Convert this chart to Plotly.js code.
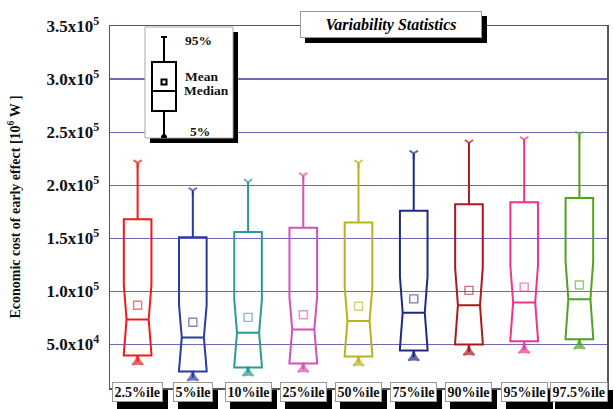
<!DOCTYPE html>
<html>
<head>
<meta charset="utf-8">
<script src="https://cdn.plot.ly/plotly-3.0.1.min.js"></script>
<style>html,body{margin:0;padding:0;background:#fff;}#chart{width:614px;height:409px;}</style>
</head>
<body>
<div id="chart"></div>
<script>
// ---- data ----
const categories = ['2.5%ile','5%ile','10%ile','25%ile','50%ile','75%ile','90%ile','95%ile','97.5%ile'];
const lowerWhisker = [34000, 19000, 23500, 27000, 33000, 38000, 43000, 45000, 49000];
const q1Values     = [39600, 24500, 28300, 32000, 38700, 44300, 50000, 53000, 55000];
const medianValues = [73600, 56600, 61000, 64000, 72000, 80000, 87000, 89600, 92500];
const meanValues   = [87000, 71000, 75500, 78000, 86000, 93000, 101000, 104000, 106000];
const q3Values     = [168000, 151000, 156000, 160000, 165000, 176000, 182000, 184000, 188000];
const upperWhisker = [221000, 195000, 203000, 209000, 221000, 230000, 240000, 243000, 248000];
const boxColors = ['#f01a1a','#2b3ba3','#2a9a92','#d452b4','#b9b21e','#1f2a85','#a91a1a','#f0338c','#52a222'];

const yTickVals = [50000, 100000, 150000, 200000, 250000, 300000, 350000];
const yTickText = ['5.0x10<sup>4</sup>','1.0x10<sup>5</sup>','1.5x10<sup>5</sup>','2.0x10<sup>5</sup>','2.5x10<sup>5</sup>','3.0x10<sup>5</sup>','3.5x10<sup>5</sup>'];

// legend key (illustrative glyph, in inset-axis units)
const keyLabels = ['95%', 'Mean', 'Median', '5%'];
const keyStats = {pos: 19, halfWidth: 12, lower: 1, q1: 27, median: 47, mean: 56, q3: 76, upper: 101};

const serif = 'Liberation Serif, Times New Roman, serif';
const traces = [];

categories.forEach((c, i) => {
  const span = Math.min(medianValues[i] - q1Values[i], q3Values[i] - medianValues[i]) * 0.95;
  traces.push({
    type: 'box', x: [c],
    q1: [q1Values[i]], median: [medianValues[i]], q3: [q3Values[i]],
    lowerfence: [lowerWhisker[i]], upperfence: [upperWhisker[i]],
    notched: true, notchspan: [span], notchwidth: 0.1,
    width: 0.5, whiskerwidth: 0,
    line: {color: boxColors[i], width: 2}, fillcolor: 'rgba(255,255,255,0)',
    boxpoints: false, hoverinfo: 'skip', showlegend: false
  });
  traces.push({
    type: 'scatter', mode: 'markers', x: [c], y: [meanValues[i]],
    marker: {symbol: 'square-open', size: 8, color: boxColors[i], opacity: 0.6, line: {width: 1.4}},
    showlegend: false, hoverinfo: 'skip'
  });
  traces.push({
    type: 'scatter', mode: 'markers', x: [c, c], y: [upperWhisker[i], lowerWhisker[i]],
    marker: {symbol: ['y-down-open', 'star-triangle-up'], size: [7, 8], color: boxColors[i], line: {width: 2, color: boxColors[i]}},
    showlegend: false, hoverinfo: 'skip'
  });
});

const annotations = [];
// title with shadow
const titleCommon = {xref: 'paper', yref: 'paper', x: 0.565, y: 1.0055, xanchor: 'center', yanchor: 'middle',
  showarrow: false, width: 176, height: 21, borderpad: 2};
annotations.push(Object.assign({}, titleCommon, {text: '<i><b>Variability Statistics</b></i>', xshift: 5, yshift: -5,
  bgcolor: '#000', bordercolor: '#000', font: {family: serif, size: 16, color: '#000'}}));
annotations.push(Object.assign({}, titleCommon, {text: '<i><b>Variability Statistics</b></i>',
  bgcolor: '#fff', bordercolor: '#999', borderwidth: 1, font: {family: serif, size: 16, color: '#000'}}));
// category labels with shadow
categories.forEach((c) => {
  const base = {xref: 'x', yref: 'paper', x: c, y: -0.011, xanchor: 'center', yanchor: 'middle',
    showarrow: false, borderpad: 1.5, text: '<b>' + c + '</b>', font: {family: serif, size: 14, color: '#111'}};
  annotations.push(Object.assign({}, base, {xshift: 5, yshift: -8, bgcolor: '#000', bordercolor: '#000', font: {family: serif, size: 14, color: '#000'}}));
  annotations.push(Object.assign({}, base, {bgcolor: '#fff', bordercolor: '#999', borderwidth: 1}));
});
// key labels
const keyPos = [[38, 98], [38, 62], [37, 48], [43, 7]];
keyLabels.forEach((t, i) => {
  annotations.push({xref: 'x2', yref: 'y2', x: keyPos[i][0], y: keyPos[i][1], xanchor: 'left', yanchor: 'middle',
    showarrow: false, text: '<b>' + t + '</b>', font: {family: serif, size: 13.5, color: '#111'}});
});

const k = keyStats;
const keyLine = {color: '#000', width: 2};
const shapes = [
  // inset panel: shadow then white card
  {type: 'rect', xref: 'x2 domain', yref: 'y2 domain', x0: 0.057, x1: 1.057, y0: -0.045, y1: 0.955,
    fillcolor: '#000', line: {width: 0}, layer: 'above'},
  {type: 'rect', xref: 'x2 domain', yref: 'y2 domain', x0: 0, x1: 1, y0: 0, y1: 1,
    fillcolor: '#fff', line: {color: '#aaa', width: 1}, layer: 'above'},
  // key glyph
  {type: 'line', xref: 'x2', yref: 'y2', x0: k.pos, x1: k.pos, y0: k.q3, y1: k.upper, line: keyLine, layer: 'above'},
  {type: 'line', xref: 'x2', yref: 'y2', x0: k.pos, x1: k.pos, y0: k.lower, y1: k.q1, line: keyLine, layer: 'above'},
  {type: 'line', xref: 'x2', yref: 'y2', x0: k.pos - 3, x1: k.pos + 3, y0: k.upper, y1: k.upper, line: keyLine, layer: 'above'},
  {type: 'rect', xref: 'x2', yref: 'y2', x0: k.pos - k.halfWidth, x1: k.pos + k.halfWidth, y0: k.q1, y1: k.q3, line: keyLine, layer: 'above'},
  {type: 'line', xref: 'x2', yref: 'y2', x0: k.pos - k.halfWidth, x1: k.pos + k.halfWidth, y0: k.median, y1: k.median, line: keyLine, layer: 'above'},
  {type: 'rect', xref: 'x2', yref: 'y2', x0: k.pos - 2.5, x1: k.pos + 2.5, y0: k.mean - 2.5, y1: k.mean + 2.5, line: keyLine, layer: 'above'},
  {type: 'circle', xref: 'x2', yref: 'y2', x0: k.pos - 2.5, x1: k.pos + 2.5, y0: k.lower - 2.5, y1: k.lower + 2.5, fillcolor: '#000', line: {color: '#000', width: 1}, layer: 'above'}
];

const layout = {
  width: 614, height: 409,
  margin: {l: 110, r: 7, t: 26, b: 21},
  paper_bgcolor: '#fff', plot_bgcolor: '#fff',
  showlegend: false, boxmode: 'overlay',
  xaxis: {type: 'category', categoryarray: categories, range: [-0.5, 8.5], showticklabels: false,
    showgrid: false, zeroline: false, showline: true, mirror: true, linecolor: '#555', linewidth: 1.5, ticks: ''},
  yaxis: {range: [9000, 350000], tickvals: yTickVals, ticktext: yTickText,
    tickfont: {family: serif, size: 17, color: '#111', weight: 'bold'}, ticklabelstandoff: 6,
    showgrid: true, gridcolor: '#7268b6', gridwidth: 1.2, zeroline: false,
    showline: true, mirror: true, linecolor: '#555', linewidth: 1.5, ticks: '',
    title: {text: '<b>Economic cost of early effect [10<sup>6</sup> W ]</b>', standoff: 22,
      font: {family: serif, size: 14, color: '#111'}}},
  xaxis2: {domain: [0.0704, 0.2475], range: [0, 88], anchor: 'y2', visible: false, fixedrange: true},
  yaxis2: {domain: [0.6906, 0.9972], range: [0, 111], anchor: 'x2', visible: false, fixedrange: true},
  shapes: shapes,
  annotations: annotations
};

Plotly.newPlot('chart', traces, layout, {staticPlot: true, displayModeBar: false});
</script>
</body>
</html>
